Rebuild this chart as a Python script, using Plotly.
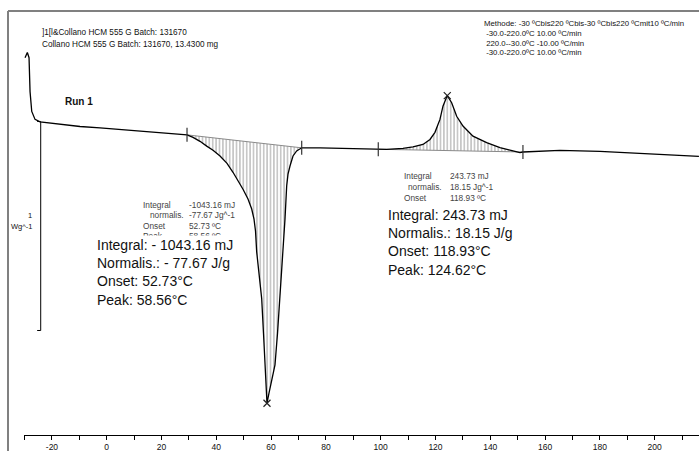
import plotly.graph_objects as go

# ---------------- data ----------------
TEMP = [-29.82, -28.98, -28.36, -27.99, -27.37, -26.17, -24.34, -17.04, -9.74, -2.45,
        4.85, 13.98, 19.45, 29.31, 31.50, 34.05, 36.50, 38.80, 41.35, 43.91,
        46.09, 47.92, 49.74, 51.57, 52.92, 53.76, 54.31, 54.74, 55.58, 56.57,
        57.23, 57.77, 58.14, 58.50, 59.23, 60.33, 61.42, 62.34, 63.25, 64.34,
        65.07, 65.69, 66.17, 66.90, 68.00, 69.34, 71.17, 77.85, 85.15, 92.45,
        99.12, 102.19, 108.14, 111.79, 115.44, 118.00, 119.82, 121.64, 122.74, 124.31,
        125.91, 127.74, 130.04, 133.69, 138.69, 143.54, 148.28, 150.84, 151.93, 158.14,
        165.44, 180.04, 194.64, 216.17]
HEAT_FLOW = [0.205, 0.230, 0.205, 0.043, -0.052, -0.090, -0.102, -0.114, -0.124, -0.131,
             -0.138, -0.146, -0.152, -0.164, -0.176, -0.195, -0.218, -0.238, -0.265, -0.300,
             -0.343, -0.381, -0.424, -0.471, -0.519, -0.567, -0.624, -0.724, -0.829, -0.948,
             -1.114, -1.265, -1.376, -1.448, -1.400, -1.329, -1.265, -1.114, -0.948, -0.724,
             -0.567, -0.408, -0.352, -0.313, -0.265, -0.241, -0.226, -0.226, -0.229, -0.230,
             -0.233, -0.233, -0.229, -0.222, -0.210, -0.186, -0.152, -0.090, -0.027, 0.024,
             -0.010, -0.075, -0.122, -0.170, -0.201, -0.225, -0.241, -0.249, -0.246, -0.243,
             -0.238, -0.243, -0.252, -0.267]

PEAK_T = [58.50, 124.31]
PEAK_HF = [-1.448, 0.024]
ENDO_LIMITS_T = [29.31, 71.17]
ENDO_LIMITS_HF = [-0.164, -0.226]
EXO_LIMITS_T = [99.12, 151.93]
EXO_LIMITS_HF = [-0.233, -0.246]

TICK_VALS = [-20, 0, 20, 40, 60, 80, 100, 120, 140, 160, 180, 200]
TICK_TEXT = ["-20", "0", "20", "40", "60", "80", "100", "120", "140", "160", "180", "200"]

HEADER_LINES = ["]1[l&Collano HCM 555 G Batch: 131670",
                "Collano HCM 555 G Batch: 131670, 13.4300 mg"]
METHOD_LINES = ["Methode: -30 ºCbis220 ºCbis-30 ºCbis220 ºCmit10 ºC/min",
                " -30.0-220.0ºC 10.00 ºC/min",
                " 220.0--30.0ºC -10.00 ºC/min",
                " -30.0-220.0ºC 10.00 ºC/min"]
ENDO_TABLE_LABELS = ["Integral", "normalis.", "Onset", "Peak"]
ENDO_TABLE_VALUES = ["-1043.16 mJ", "-77.67 Jg^-1", "52.73 ºC", "58.56 ºC"]
EXO_TABLE_LABELS = ["Integral", "normalis.", "Onset"]
EXO_TABLE_VALUES = ["243.73 mJ", "18.15 Jg^-1", "118.93 ºC"]
ENDO_RESULT = ["Integral: - 1043.16 mJ", "Normalis.: - 77.67 J/g", "Onset: 52.73°C", "Peak: 58.56°C"]
EXO_RESULT = ["Integral: 243.73 mJ", "Normalis.: 18.15 J/g", "Onset: 118.93°C", "Peak: 124.62°C"]

# ---------------- layout helpers ----------------
W, H = 699, 452
ML, MR, MT, MB = 24, 0, 11, 15
PW, PH = W - ML - MR, H - MT - MB
X_RANGE = [-30.2, 216.2]
Y_RANGE = [-1.6, 0.4286]
FONT = "Liberation Sans, Arial, sans-serif"


def px(xp):
    return (xp - ML) / PW


def py(yp):
    return (H - MB - yp) / PH


fig = go.Figure()


def add_hatched(limits_t, limits_hf):
    seg_t = [t for t in TEMP if limits_t[0] <= t <= limits_t[1]]
    seg_hf = [h for t, h in zip(TEMP, HEAT_FLOW) if limits_t[0] <= t <= limits_t[1]]
    fig.add_trace(go.Scatter(x=limits_t, y=limits_hf, mode="lines",
                             line=dict(color="#8a8a8a", width=1), hoverinfo="skip",
                             showlegend=False))
    fig.add_trace(go.Scatter(x=seg_t, y=seg_hf, mode="lines", fill="tonexty",
                             fillcolor="rgba(0,0,0,0)",
                             fillpattern=dict(shape="|", size=3.4, solidity=0.33,
                                              fgcolor="#555555", bgcolor="rgba(0,0,0,0)"),
                             line=dict(color="rgba(0,0,0,0)", width=0), hoverinfo="skip",
                             showlegend=False))


add_hatched(ENDO_LIMITS_T, ENDO_LIMITS_HF)
add_hatched(EXO_LIMITS_T, EXO_LIMITS_HF)

# main curve
fig.add_trace(go.Scatter(x=TEMP, y=HEAT_FLOW, mode="lines",
                         line=dict(color="black", width=1.3), showlegend=False))

# integration limit markers
fig.add_trace(go.Scatter(x=ENDO_LIMITS_T + EXO_LIMITS_T, y=ENDO_LIMITS_HF + EXO_LIMITS_HF,
                         mode="markers",
                         marker=dict(symbol="line-ns-open", size=10, color="#333333",
                                     line=dict(color="#333333", width=1.2)),
                         showlegend=False))
# peak markers
fig.add_trace(go.Scatter(x=PEAK_T, y=PEAK_HF, mode="markers",
                         marker=dict(symbol="x-thin-open", size=7, color="#222222",
                                     line=dict(color="#222222", width=1.2)),
                         showlegend=False))

# scale bar (1 W/g)
SB_T, SB_TICK_T = -24.1, -25.4
SB_TOP, SB_BOT = -0.1, -1.1
for seg in [(SB_T, SB_TOP, SB_T, SB_BOT), (SB_TICK_T, SB_TOP, SB_T, SB_TOP),
            (SB_TICK_T, SB_BOT, SB_T, SB_BOT)]:
    fig.add_shape(type="line", xref="x", yref="y", x0=seg[0], y0=seg[1], x1=seg[2], y1=seg[3],
                  line=dict(color="black", width=1))

# gray frame
fig.add_shape(type="line", xref="paper", yref="paper", x0=px(8), x1=px(700), y0=py(11), y1=py(11),
              line=dict(color="#808080", width=2))
fig.add_shape(type="line", xref="paper", yref="paper", x0=px(8), x1=px(8), y0=py(11), y1=py(453),
              line=dict(color="#808080", width=2))

ann = []


def text(x, y, s, size=8, color="#111111", xanchor="left", bg=None, **kw):
    d = dict(x=px(x), y=py(y), xref="paper", yref="paper", text=s, showarrow=False,
             xanchor=xanchor, yanchor="middle", align="left",
             font=dict(family=FONT, size=size, color=color))
    if bg:
        d.update(bgcolor=bg, borderpad=1)
    d.update(kw)
    ann.append(d)


text(40, 33, HEADER_LINES[0], size=8.2)
text(40, 45, HEADER_LINES[1], size=8.2)
for i, line in enumerate(METHOD_LINES):
    text(482, 24 + i * 9.7, line, size=7.8)
text(63, 102, "<b>Run 1</b>", size=10)
text(34, 216, "1", size=7.5, xanchor="right")
text(34, 228, "Wg^-1", size=7.5, xanchor="right")

endo_lx = [141, 148, 141, 141]
for i, (lab, val) in enumerate(zip(ENDO_TABLE_LABELS, ENDO_TABLE_VALUES)):
    text(endo_lx[i], 206 + i * 10.3, lab, size=8.3, color="#444444")
    text(187, 206 + i * 10.3, val, size=8.3, color="#444444")
exo_lx = [402, 406, 402]
for i, (lab, val) in enumerate(zip(EXO_TABLE_LABELS, EXO_TABLE_VALUES)):
    text(exo_lx[i], 177 + i * 11, lab, size=8.3, color="#444444")
    text(448, 177 + i * 11, val, size=8.3, color="#444444")

text(95, 274, "<br>".join(ENDO_RESULT), size=14, color="#111111", bg="white")
text(386, 243.5, "<br>".join(EXO_RESULT), size=14, color="#111111", bg="white")

fig.update_layout(
    width=W, height=H, autosize=False,
    margin=dict(l=ML, r=MR, t=MT, b=MB, pad=0),
    paper_bgcolor="white", plot_bgcolor="white",
    showlegend=False,
    annotations=ann,
    xaxis=dict(range=X_RANGE, showgrid=False, zeroline=False, showline=True,
               linecolor="black", linewidth=1, ticks="outside", ticklen=4,
               tickcolor="black", tickwidth=1, tickvals=TICK_VALS, ticktext=TICK_TEXT,
               tickfont=dict(family=FONT, size=8.5, color="#111111"),
               minor=dict(dtick=10, tick0=0, ticks="outside", ticklen=4,
                          tickcolor="black", tickwidth=1)),
    yaxis=dict(range=Y_RANGE, visible=False, showgrid=False, zeroline=False),
)

fig.write_html("out.html", config={"displayModeBar": False},
               post_script="document.body.style.margin='0';document.body.style.overflow='hidden';")
